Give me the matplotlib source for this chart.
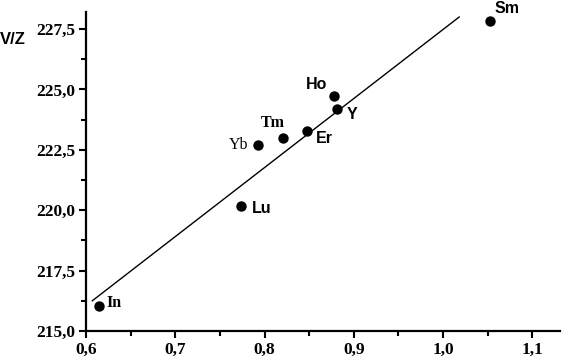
import matplotlib
matplotlib.use("Agg")
import matplotlib.pyplot as plt
from matplotlib.ticker import MultipleLocator, FuncFormatter
import numpy as np

elements = ["Sm", "Ho", "Y", "Er", "Tm", "Yb", "Lu", "In"]
radius = [1.053, 0.878, 0.881, 0.848, 0.821, 0.793, 0.774, 0.615]
vz = [227.83, 224.72, 224.19, 223.29, 222.99, 222.70, 220.19, 216.04]
fit_x = [0.607, 1.018]
fit_y = [216.25, 228.0]
x_ticks = [0.6, 0.7, 0.8, 0.9, 1.0, 1.1]
y_ticks = [215.0, 217.5, 220.0, 222.5, 225.0, 227.5]

# label styling: (dx px, dy px, family, weight)
label_style = {
    "Sm": (17, 13, "Liberation Sans", "bold"),
    "Ho": (-18, 12, "Liberation Sans", "bold"),
    "Y": (15, -5, "Liberation Sans", "bold"),
    "Er": (17, -8, "Liberation Sans", "bold"),
    "Tm": (-10, 15, "Liberation Serif", "bold"),
    "Yb": (-20, 0, "Liberation Serif", "normal"),
    "Lu": (20, -3, "Liberation Sans", "bold"),
    "In": (15, 3, "Liberation Serif", "bold"),
}

fig = plt.figure(figsize=(5.64, 3.58), dpi=100)
ax = fig.add_axes([0.1525, 0.0754, 0.993 - 0.1525, 0.966 - 0.0754])

ax.plot(fit_x, fit_y, color="black", lw=1.0)
ax.scatter(radius, vz, s=42, color="black", zorder=3)

for el, x, y in zip(elements, radius, vz):
    dx, dy, fam, wt = label_style[el]
    ax.annotate(el, (x, y), xytext=(dx * 0.72, dy * 0.72), textcoords="offset points",
                ha="center", va="center", fontsize=11.5, family=fam, fontweight=wt)

ax.set_xlim(0.6, 1.131)
ax.set_ylim(215.0, 228.2)
ax.set_xticks(x_ticks)
ax.set_yticks(y_ticks)
ax.xaxis.set_minor_locator(MultipleLocator(0.05))
ax.yaxis.set_minor_locator(MultipleLocator(1.25))
ax.xaxis.set_major_formatter(FuncFormatter(lambda v, p: f"{v:.1f}".replace(".", ",")))
ax.yaxis.set_major_formatter(FuncFormatter(lambda v, p: f"{v:.1f}".replace(".", ",")))

for s in ["top", "right"]:
    ax.spines[s].set_visible(False)
for s in ["left", "bottom"]:
    ax.spines[s].set_linewidth(1.6)

ax.tick_params(which="major", direction="out", length=5, width=1.5, pad=3)
ax.tick_params(which="minor", direction="out", length=3.5, width=1.5)
for lab in ax.get_xticklabels() + ax.get_yticklabels():
    lab.set_family("Liberation Serif")
    lab.set_fontweight("bold")
    lab.set_fontsize(12.5)

fig.text(0.0, 1 - 40 / 358, "V/Z", ha="left", va="center", fontsize=12,
         family="Liberation Sans", fontweight="bold")

fig.savefig("out.png", dpi=100)
